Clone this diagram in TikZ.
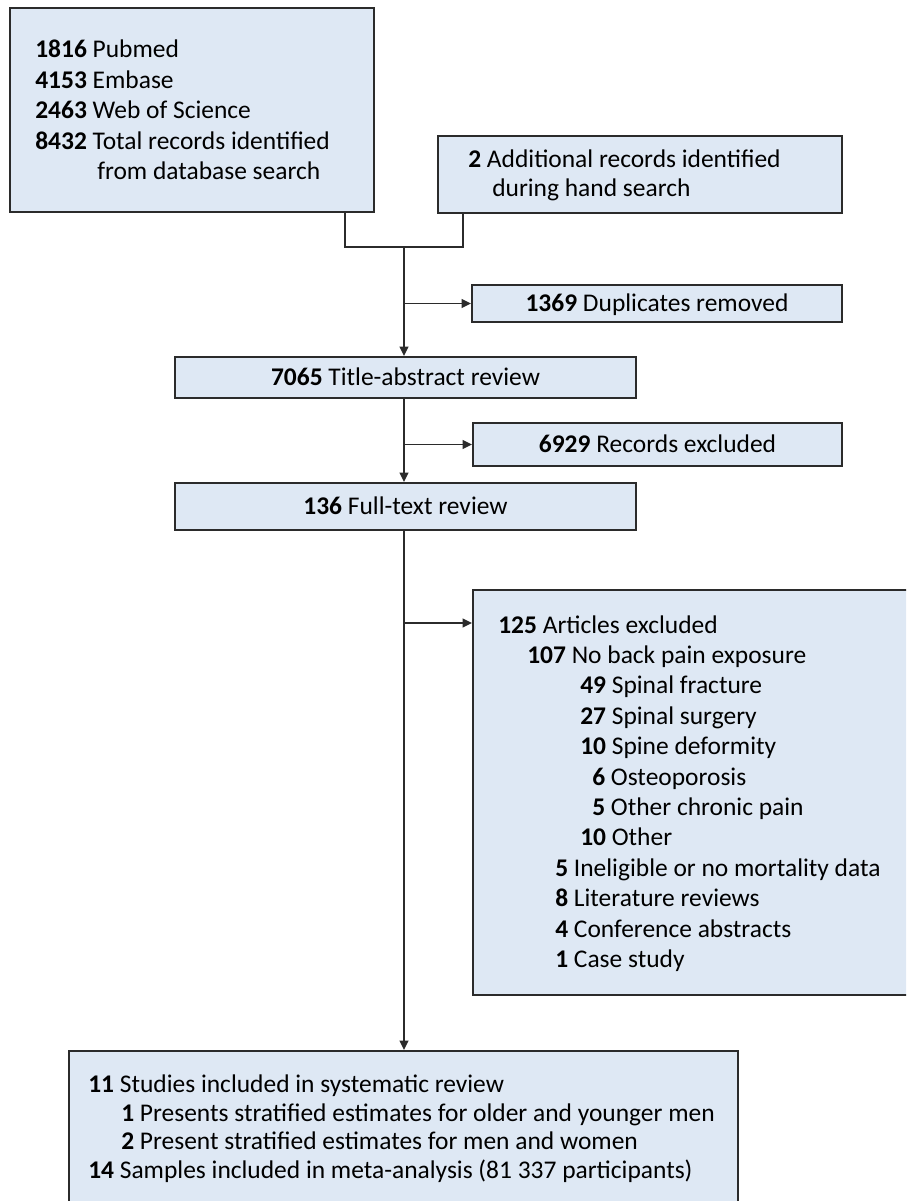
\documentclass[tikz,border=0pt]{standalone}
\usepackage{fontspec}
\setmainfont{Carlito}
\usetikzlibrary{arrows.meta}
\definecolor{boxfill}{HTML}{DEE8F4}
\definecolor{linec}{HTML}{2B2B2B}
\newcommand\fs{\fontsize{19.1pt}{22.9pt}\selectfont}
\tikzset{
  box/.style={draw=linec, fill=boxfill, line width=1.4pt, inner sep=0pt, rectangle},
  txt/.style={anchor=base west, inner sep=0pt, font=\fs},
  ctxt/.style={anchor=base, inner sep=0pt, font=\fs},
  ln/.style={line width=1.4pt, draw=linec},
  arr/.style={ln, -{Triangle[length=7pt,width=6.5pt]}}
}
\begin{document}
\begin{tikzpicture}[x=0.75pt,y=-0.75pt]
\useasboundingbox (0,0) rectangle (906,1201);
\begin{scope}
\clip (0,0) rectangle (906,1201);
% boxes
\node[box, minimum width=273pt, minimum height=153pt] (A) at (192,110) {};
\node[box, minimum width=303pt, minimum height=57.75pt] (B) at (640,174.5) {};
\node[box, minimum width=277.5pt, minimum height=27.75pt] (D) at (657,303.5) {};
\node[box, minimum width=345.75pt, minimum height=30.75pt] (T) at (405.5,377.5) {};
\node[box, minimum width=276.75pt, minimum height=32.25pt] (R) at (657.5,444.5) {};
\node[box, minimum width=345.75pt, minimum height=35.25pt] (F) at (405.5,506.5) {};
\node[box, minimum width=342.75pt, minimum height=303.75pt] (E) at (701.5,792.5) {};
\node[box, minimum width=501.75pt, minimum height=134.25pt] (S) at (403.5,1140.5) {};
% connectors
\coordinate (j1) at (345,247);
\coordinate (j2) at (463,247);
\coordinate (jm) at (404,247);
\coordinate (k) at (404,623);
\draw[ln] (A.south -| j1) -- (j1) -- (j2) -- (B.south -| j2);
\draw[arr] (jm) -- (jm |- T.north);
\draw[arr] (jm |- D.west) -- (D.west);
\draw[arr] (T.south -| jm) -- (F.north -| jm);
\draw[arr] (R.west -| jm) -- (R.west);
\draw[arr] (F.south -| jm) -- (S.north -| jm);
\draw[arr] (k) -- (k -| E.west);
% texts
\foreach \x/\y/\n/\t [count=\i] in {
  35/58/1816/Pubmed,
  35/88.5/4153/Embase,
  35/119/2463/Web of Science,
  35/149.5/8432/Total records identified,
  468/168/2/Additional records identified,
  498/633/125/Articles excluded,
  527/663.4/107/No back pain exposure,
  580/693.8/49/Spinal fracture,
  580/724.2/27/Spinal surgery,
  580/754.6/10/Spine deformity,
  592/785/6/Osteoporosis,
  592/815.4/5/Other chronic pain,
  580/845.8/10/Other,
  555/876.2/5/Ineligible or no mortality data,
  555/906.6/8/Literature reviews,
  555/937/4/Conference abstracts,
  555/967.4/1/Case study,
  88/1092/11/Studies included in systematic review,
  121/1121/1/Presents stratified estimates for older and younger men,
  121/1149/2/Present stratified estimates for men and women,
  88/1178/14/Samples included in meta-analysis (81 337 participants)}
  {\node[txt] (t\i) at (\x,\y) {\textbf{\n} \t};}
\node[txt] (a5) at (97,180) {from database search};
\node[txt] (b2) at (492,197) {during hand search};
\node[ctxt] (dt) at (657,312) {\textbf{1369} Duplicates removed};
\node[ctxt] (tt) at (405.5,385) {\textbf{7065} Title-abstract review};
\node[ctxt] (rt) at (657.5,452) {\textbf{6929} Records excluded};
\node[ctxt] (ft) at (405.5,514) {\textbf{136} Full-text review};
\end{scope}
\end{tikzpicture}
\end{document}
